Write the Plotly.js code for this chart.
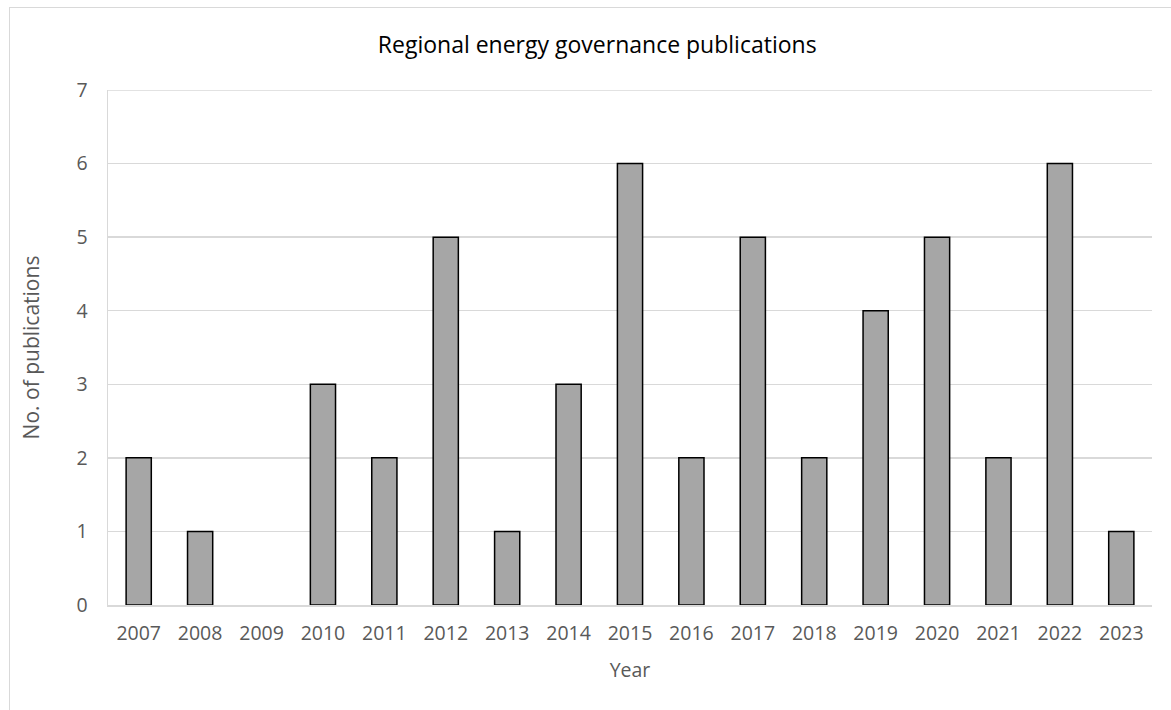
<!DOCTYPE html>
<html>
<head>
<meta charset="utf-8">
<script src="https://cdn.plot.ly/plotly-3.0.1.min.js"></script>
<style>
  html, body { margin: 0; padding: 0; background: #fff; overflow: hidden; }
  #frame { position: absolute; left: 9px; top: 7px; width: 1180px; height: 720px; border: 1px solid #d9d9d9; box-sizing: border-box; }
  #chart { position: absolute; left: 0; top: 0; width: 1171px; height: 710px; }
</style>
</head>
<body>
<div id="frame"></div>
<div id="chart"></div>
<script>
const years = ['2007','2008','2009','2010','2011','2012','2013','2014','2015','2016','2017','2018','2019','2020','2021','2022','2023'];
const publications = [2, 1, 0, 3, 2, 5, 1, 3, 6, 2, 5, 2, 4, 5, 2, 6, 1];
const chartTitle = 'Regional energy governance publications';
const xTitle = 'Year';
const yTitle = 'No. of publications';

const font = '"Open Sans", "Noto Sans", sans-serif';

Plotly.newPlot('chart', [{
  type: 'bar',
  x: years,
  y: publications,
  marker: {
    color: '#a6a6a6',
    line: { color: '#000000', width: publications.map(v => v === 0 ? 0 : 1.5) }
  },
  hoverinfo: 'x+y'
}], {
  width: 1171,
  height: 710,
  paper_bgcolor: 'rgba(0,0,0,0)',
  plot_bgcolor: '#ffffff',
  margin: { l: 108, r: 19, t: 90, b: 105 },
  bargap: 0.59,
  showlegend: false,
  title: {
    text: chartTitle,
    font: { family: font, size: 23, color: '#000000' },
    x: 0.51, xanchor: 'center',
    y: 0.937, yanchor: 'middle'
  },
  xaxis: {
    type: 'category',
    tickfont: { family: font, size: 19.5, color: '#595959' },
    ticks: '',
    ticklabelstandoff: 10,
    showline: true, linecolor: '#d9d9d9', linewidth: 1.5,
    showgrid: false,
    title: { text: xTitle, font: { family: font, size: 19.5, color: '#595959' }, standoff: 18 }
  },
  yaxis: {
    range: [0, 7],
    dtick: 1,
    tickfont: { family: font, size: 19.5, color: '#595959' },
    ticks: '',
    ticklabelstandoff: 15,
    showline: true, linecolor: '#d9d9d9', linewidth: 1.5,
    showgrid: true, gridcolor: '#d9d9d9', gridwidth: 1.5,
    zeroline: false,
    title: { text: yTitle, font: { family: font, size: 21, color: '#595959' }, standoff: 31 }
  },
  shapes: [{
    type: 'line', xref: 'paper', yref: 'y', x0: 0, x1: 1, y0: 7, y1: 7,
    line: { color: '#d9d9d9', width: 1.5 }, layer: 'below'
  }]
}, { displayModeBar: false, staticPlot: true });
</script>
</body>
</html>
